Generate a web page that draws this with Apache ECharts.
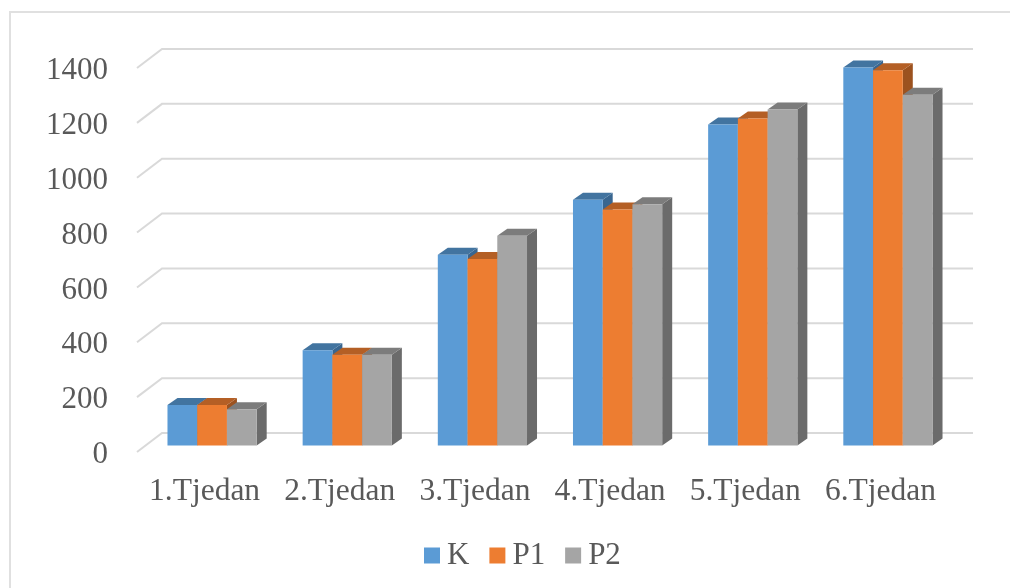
<!DOCTYPE html>
<html><head><meta charset="utf-8">
<style>html,body{margin:0;padding:0;background:#fff}#c{width:1010px;height:588px}</style>
<script src="https://cdn.jsdelivr.net/npm/echarts@6/dist/echarts.min.js"></script>
</head><body><div id="c"></div>
<script>
const categories = ['1.Tjedan','2.Tjedan','3.Tjedan','4.Tjedan','5.Tjedan','6.Tjedan'];
const K  = [148, 347, 695, 896, 1170, 1378];
const P1 = [148, 331, 680, 860, 1192, 1368];
const P2 = [132, 331, 765, 880, 1225, 1279];
const yTicks = [0,200,400,600,800,1000,1200,1400];

const FONT = '"Liberation Serif","Times New Roman",serif';
const TEXT = '#595959';
const colors = {
  K:  {front:'#5B9BD5', top:'#4274A0', side:'#396690'},
  P1: {front:'#ED7D31', top:'#B45F25', side:'#9C521F'},
  P2: {front:'#A5A5A5', top:'#7C7C7C', side:'#6B6B6B'}
};
const wall = {dx:25, dy:-19};
const inset = {dx:7.5, dy:-6.5};
const depth = {dx:10, dy:-7};

function barSeries(name, values, slot){
  const c = colors[name];
  return {
    name, type:'custom', z:3,
    itemStyle:{color:c.front},
    encode:{x:0,y:1},
    data: values.map((v,i)=>[i,v]),
    renderItem(params, api){
      const band = api.size([1,0])[0];
      const w = band*0.22;
      const p = api.coord([api.value(0), api.value(1)]);
      const b = api.coord([api.value(0), 0]);
      const x0 = b[0] + (slot-1.5)*w + inset.dx;
      const x1 = x0 + w;
      const yB = b[1] + inset.dy;
      const yT = p[1] + inset.dy;
      const poly = (pts,fill)=>({type:'polygon',shape:{points:pts},style:{fill},silent:true});
      return {type:'group',children:[
        poly([[x1,yB],[x1+depth.dx,yB+depth.dy],[x1+depth.dx,yT+depth.dy],[x1,yT]], c.side),
        poly([[x0,yT],[x1,yT],[x1+depth.dx,yT+depth.dy],[x0+depth.dx,yT+depth.dy]], c.top),
        poly([[x0,yB],[x1,yB],[x1,yT],[x0,yT]], c.front)
      ]};
    }
  };
}

const chart = echarts.init(document.getElementById('c'),null,{renderer:'canvas'});
chart.setOption({
  animation:false,
  backgroundColor:'#fff',
  textStyle:{fontFamily:FONT},
  graphic:[{type:'polyline',silent:true,z:-10,shape:{points:[[10,588],[10,12],[1010,12]]},style:{fill:null,stroke:'#e0e0e0',lineWidth:2}}],
  grid:{left:137,right:62,top:68,height:384},
  legend:{
    data:['K','P1','P2'],
    left:419, top:535,
    icon:'rect', itemWidth:16, itemHeight:16, itemGap:20,
    textStyle:{fontFamily:FONT,fontSize:31,color:TEXT,padding:[0,0,0,2]}
  },
  xAxis:{type:'category',data:categories,
    axisLine:{show:false},axisTick:{show:false},splitLine:{show:false},
    axisLabel:{interval:0,margin:24,fontFamily:FONT,fontSize:31.5,color:TEXT}},
  yAxis:{type:'value',min:0,max:1400,interval:200,
    axisLine:{show:false},axisTick:{show:false},splitLine:{show:false},
    axisLabel:{margin:29,fontFamily:FONT,fontSize:31,color:TEXT,verticalAlign:'top',lineHeight:6,formatter:v=>String(v)}},
  series:[
    {type:'custom',z:1,silent:true,encode:{y:0},
     data:yTicks.map(v=>[v]),
     renderItem(params,api){
       const cs = params.coordSys;
       const y = api.coord([0,api.value(0)])[1];
       const x = cs.x, r = cs.x+cs.width;
       return {type:'polyline',silent:true,
         shape:{points:[[x,y],[x+wall.dx,y+wall.dy],[r+wall.dx,y+wall.dy]]},
         style:{fill:null,stroke:'#d9d9d9',lineWidth:2}};
     }},
    barSeries('K',K,0),
    barSeries('P1',P1,1),
    barSeries('P2',P2,2)
  ]
});
</script></body></html>
